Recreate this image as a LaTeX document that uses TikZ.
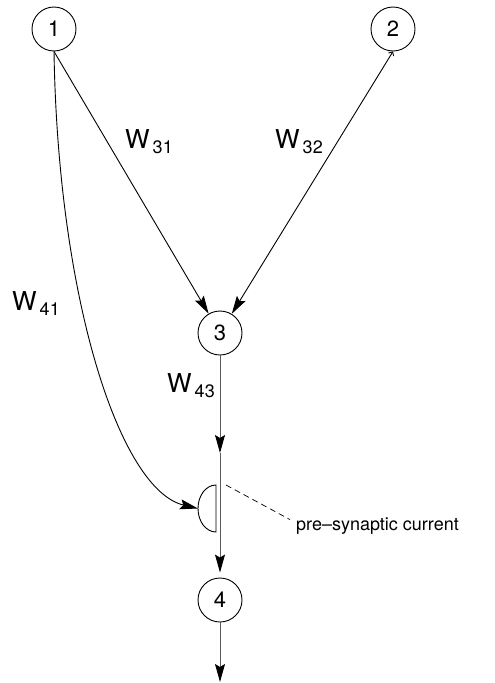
\documentclass[tikz,border=0pt]{standalone}
\usepackage{fontspec}
\setmainfont{TeX Gyre Heros}
\usetikzlibrary{arrows.meta}
\tikzstyle{neuron} = [circle, draw=black, line width=0.9pt, minimum size=44pt, inner sep=0pt,
                      fill=white, font=\fontsize{22}{22}\selectfont]
\tikzstyle{arrow}  = [line width=0.9pt, -{Stealth[length=18pt, width=10pt, inset=3pt]}]
\tikzstyle{axon}   = [line width=0.9pt, draw=black!65, -{Stealth[length=18pt, width=10pt, inset=3pt, color=black]}]
\tikzstyle{weight} = [inner sep=0pt, anchor=base west, font=\fontsize{26}{26}\selectfont]
\tikzstyle{note}   = [inner sep=0pt, anchor=base west, font=\fontsize{18}{18}\selectfont]
\newcommand{\wsub}[1]{W\kern3pt\raisebox{-5pt}{\fontsize{18}{18}\selectfont #1}}

\begin{document}
\begin{tikzpicture}[x=1pt, y=-1pt]
  \useasboundingbox (0,0) rectangle (495,683);
  \node (n1) [neuron] at (54,29)   {1};
  \node (n2) [neuron] at (393,29)  {2};
  \node (n3) [neuron] at (220,333) {3};
  \node (n4) [neuron] at (220,600) {4};
  \coordinate (mid)    at (220,453);
  \coordinate (syn)    at (198,508.5);
  \coordinate (syntop) at (226,485);
  \coordinate (out)    at (220,682);
  \draw [arrow] (n1.south) -- (n3);
  \draw [arrow, {Straight Barb[length=3pt, width=6pt]}-{Stealth[length=18pt, width=10pt, inset=3pt]}] (n2.south) -- (n3);
  \draw [axon] (n3) -- (mid);
  \draw [axon, shorten >=5pt] (mid) -- (n4);
  \draw [axon] (n4) -- (out);
  \draw [arrow] (n1.south) .. controls (58,300) and (120,490) .. (syn);
  % synapse
  \draw [line width=0.9pt, fill=white] (216,485) .. controls (206,485) and (198,495.5) .. (198,508.5)
        .. controls (198,521.5) and (206,532) .. (216,532) -- cycle;
  \node (cur) [note] at (296,530) {pre–synaptic current};
  \draw [line width=0.7pt, dash pattern=on 6pt off 4pt] (syntop) -- ([xshift=-6pt, yshift=6pt]cur.west);
  \node (w31) [weight] at (125,148) {\wsub{31}};
  \node (w32) [weight] at (275,148) {\wsub{32}};
  \node (w41) [weight] at (12,310)  {\wsub{41}};
  \node (w43) [weight] at (167,392) {\wsub{43}};
\end{tikzpicture}
\end{document}
